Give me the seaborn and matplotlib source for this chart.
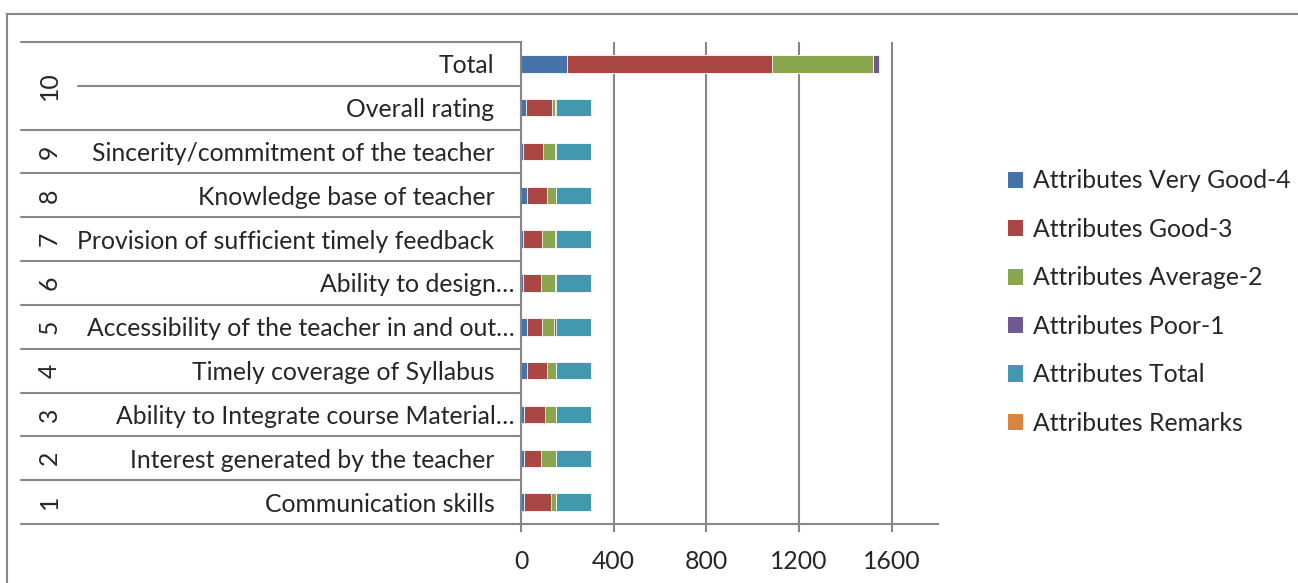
import numpy as np
import pandas as pd
import seaborn as sns
import matplotlib
from matplotlib import pyplot as plt
from matplotlib.patches import Patch, Rectangle
import matplotlib.transforms as mtransforms

matplotlib.use("Agg")

# rows from top to bottom
attributes = [
    "Total",
    "Overall rating",
    "Sincerity/commitment of the teacher",
    "Knowledge base of teacher",
    "Provision of sufficient timely feedback",
    "Ability to design\u2026",
    "Accessibility of the teacher in and out\u2026",
    "Timely coverage of Syllabus",
    "Ability to Integrate course Material\u2026",
    "Interest generated by the teacher",
    "Communication skills",
]
groups = ["10", "10", "9", "8", "7", "6", "5", "4", "3", "2", "1"]

very_good = [199, 22, 10, 25, 10, 8, 27, 27, 12, 12, 12]
good = [885, 111, 87, 89, 79, 79, 62, 87, 91, 76, 118]
average = [434, 15, 51, 36, 56, 59, 54, 36, 46, 62, 20]
poor = [26, 2, 2, 0, 5, 4, 7, 0, 1, 0, 0]
total = [0, 150, 150, 150, 150, 150, 150, 150, 150, 150, 150]
remarks = [0, 0, 0, 0, 0, 0, 0, 0, 0, 0, 0]

series = {
    "Attributes Very Good-4": very_good,
    "Attributes Good-3": good,
    "Attributes Average-2": average,
    "Attributes Poor-1": poor,
    "Attributes Total": total,
    "Attributes Remarks": remarks,
}
colors = ["#4572A7", "#AA4643", "#89A54E", "#71588F", "#4198AF", "#DB843D"]

GRAY = "#878787"
W, H = 1298, 583


def main():
    sns.set_style("white")
    plt.rcParams["font.family"] = ["Lato", "DejaVu Sans"]
    fs = 17.8

    names = list(series.keys())
    cum = pd.DataFrame(series).cumsum(axis=1)
    cum["Attribute"] = attributes

    fig = plt.figure(figsize=(W / 100, H / 100), dpi=100)
    ax = fig.add_axes([521 / W, 1 - 524 / H, (938 - 521) / W, (524 - 42) / H])

    # stacked bars: draw cumulative sums from the outside in
    for name, color in reversed(list(zip(names, colors))):
        sns.barplot(
            data=cum,
            x=name,
            y="Attribute",
            order=attributes,
            orient="h",
            color=color,
            saturation=1,
            width=0.4,
            edgecolor="white",
            linewidth=0.6,
            ax=ax,
        )

    ax.set_xlim(0, 1800)
    ax.set_ylim(len(attributes) - 0.5, -0.5)
    ax.set_xticks([0, 400, 800, 1200, 1600])
    ax.set_xlabel("")
    ax.set_ylabel("")
    ax.xaxis.grid(True, color=GRAY, linewidth=1.5)
    ax.set_axisbelow(True)
    for side in ["top", "right"]:
        ax.spines[side].set_visible(False)
    for side in ["left", "bottom"]:
        ax.spines[side].set_color(GRAY)
        ax.spines[side].set_linewidth(1.5)
    ax.tick_params(axis="x", bottom=True, length=6, width=1.5, color=GRAY,
                   labelsize=fs, pad=13)
    ax.tick_params(axis="y", left=False, length=0, labelsize=fs, pad=19)

    # truncated labels run a little further right, like the original
    shift = mtransforms.ScaledTranslation(20 / 100, 0, fig.dpi_scale_trans)
    for lab in ax.get_yticklabels():
        if lab.get_text().endswith("\u2026"):
            lab.set_transform(lab.get_transform() + shift)

    # multi-level category axis: separator lines and outer group labels
    trans = mtransforms.blended_transform_factory(fig.transFigure, ax.transData)
    for k in range(len(attributes) + 1):
        yb = k - 0.5
        inner = 0 < k < len(attributes) and groups[k - 1] == groups[k]
        x0 = 78 / W if inner else 21 / W
        ax.plot([x0, 521 / W], [yb, yb], color=GRAY, lw=1.5,
                transform=trans, clip_on=False)
    for g in dict.fromkeys(groups):
        idx = [i for i, v in enumerate(groups) if v == g]
        ax.text(49 / W, np.mean(idx), g, rotation=90, ha="center", va="center",
                fontsize=fs, transform=trans)

    handles = [Patch(facecolor=c, edgecolor="none") for c in colors]
    fig.legend(
        handles,
        names,
        loc="center left",
        bbox_to_anchor=(1008 / W, 1 - 302 / H),
        frameon=False,
        fontsize=fs,
        handlelength=0.62,
        handleheight=0.62,
        handletextpad=0.4,
        labelspacing=1.03,
        borderpad=0,
        borderaxespad=0,
    )

    fig.add_artist(Rectangle((7 / W, -0.05), 1.1, 1.05 - 14 / H,
                             transform=fig.transFigure, fill=False,
                             edgecolor=GRAY, linewidth=1.5))

    fig.savefig("out.png", dpi=100)


if __name__ == "__main__":
    main()
